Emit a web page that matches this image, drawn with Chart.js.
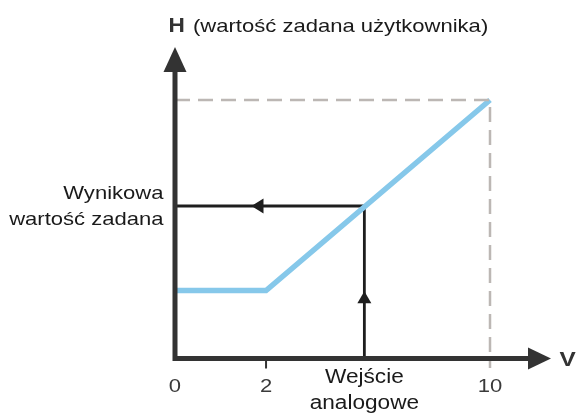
<!DOCTYPE html>
<html>
<head>
<meta charset="utf-8">
<script src="https://cdn.jsdelivr.net/npm/chart.js@4/dist/chart.umd.min.js"></script>
<style>
  html, body { margin: 0; padding: 0; background: #ffffff; }
  #wrap { width: 578px; height: 414px; }
</style>
</head>
<body>
<div id="wrap"><canvas id="c" width="578" height="414"></canvas></div>
<script>
// Schematic axis positions (the horizontal axis is not to scale)
const xTickPos = [0, 2, 6.92];
const xTickLabels = ['0', '2', '10'];

// Characteristic: constant set point up to the knee, then rising to the maximum
const curveX = [0, 2, 6.92];
const curveY = [2.63, 2.63, 10];

// Upper limit of the set point
const maxH = 10;

// Example operating point: analogue input and resulting set point
const inputX = 4.16;
const resultH = 5.9;

// Axis extent (arrow tips)
const xEnd = 8.26;
const yEnd = 12.05;

const TEXT_SX = 1.16;
const FONT = '"Liberation Sans", Arial, Helvetica, sans-serif';

function drawLabel(ctx, text, x, y, size, weight, align, color) {
  ctx.save();
  ctx.font = weight + ' ' + size + 'px ' + FONT;
  ctx.fillStyle = color;
  ctx.textAlign = align;
  ctx.textBaseline = 'alphabetic';
  ctx.translate(x, y);
  ctx.scale(TEXT_SX, 1);
  ctx.fillText(text, 0, 0);
  ctx.restore();
}

function triangle(ctx, pts, color) {
  ctx.beginPath();
  ctx.moveTo(pts[0][0], pts[0][1]);
  ctx.lineTo(pts[1][0], pts[1][1]);
  ctx.lineTo(pts[2][0], pts[2][1]);
  ctx.closePath();
  ctx.fillStyle = color;
  ctx.fill();
}

const diagramPlugin = {
  id: 'diagram',
  afterDatasetsDraw(chart) {
    const ctx = chart.ctx;
    const xs = chart.scales.x, ys = chart.scales.y;
    const x0 = xs.getPixelForValue(0), y0 = ys.getPixelForValue(0);
    const xTip = xs.getPixelForValue(xEnd), yTip = ys.getPixelForValue(yEnd);
    const axisColor = '#333333';

    // Direction arrows on the operating-point path
    const xIn = xs.getPixelForValue(inputX);
    const yRes = ys.getPixelForValue(resultH);
    const xLeftArrow = xs.getPixelForValue(1.68);
    triangle(ctx, [[xLeftArrow, yRes], [xLeftArrow + 12, yRes - 7.5], [xLeftArrow + 12, yRes + 7.5]], '#1e1e1e');
    const yUpArrow = ys.getPixelForValue(2.6);
    triangle(ctx, [[xIn, yUpArrow], [xIn - 7, yUpArrow + 12], [xIn + 7, yUpArrow + 12]], '#1e1e1e');

    // Tick mark at the knee
    ctx.save();
    ctx.strokeStyle = axisColor;
    ctx.lineWidth = 2;
    const xk = xs.getPixelForValue(xTickPos[1]);
    ctx.beginPath();
    ctx.moveTo(xk, y0);
    ctx.lineTo(xk, y0 + 10);
    ctx.stroke();
    ctx.restore();

    // Axes with arrow heads
    ctx.save();
    ctx.strokeStyle = axisColor;
    ctx.lineWidth = 5;
    ctx.lineCap = 'butt';
    ctx.beginPath();
    ctx.moveTo(x0, y0 + 2.5);
    ctx.lineTo(x0, yTip + 20);
    ctx.moveTo(x0 - 2.5, y0);
    ctx.lineTo(xTip - 20, y0);
    ctx.stroke();
    ctx.restore();
    triangle(ctx, [[x0, yTip], [x0 - 11.5, yTip + 25], [x0 + 11.5, yTip + 25]], axisColor);
    triangle(ctx, [[xTip, y0], [xTip - 23, y0 - 11], [xTip - 23, y0 + 11]], axisColor);

    // Axis titles
    drawLabel(ctx, 'H', 168.5, 31.7, 19.5, 'bold', 'left', '#333333');
    drawLabel(ctx, '(wartość zadana użytkownika)', 193, 31.7, 19, 'normal', 'left', '#1a1a1a');
    drawLabel(ctx, 'V', 559.5, 366, 21, 'bold', 'left', '#333333');

    // Tick labels
    xTickPos.forEach((v, i) => {
      drawLabel(ctx, xTickLabels[i], xs.getPixelForValue(v), 392, 19, 'normal', 'center', '#3a3a3a');
    });

    // Operating point labels
    drawLabel(ctx, 'Wejście', xIn, 383, 19.5, 'normal', 'center', '#1a1a1a');
    drawLabel(ctx, 'analogowe', xIn, 409, 19.5, 'normal', 'center', '#1a1a1a');
    drawLabel(ctx, 'Wynikowa', 163.5, 198.5, 19, 'normal', 'right', '#1a1a1a');
    drawLabel(ctx, 'wartość zadana', 163.5, 225, 19, 'normal', 'right', '#1a1a1a');
  }
};

const pts = (xa, ya) => xa.map((x, i) => ({ x: x, y: ya[i] }));

new Chart(document.getElementById('c'), {
  type: 'scatter',
  data: {
    datasets: [
      {
        // Maximum set-point guide
        data: [{ x: 0, y: maxH }, { x: curveX[2], y: maxH }, { x: curveX[2], y: -0.37 }],
        showLine: true,
        borderColor: '#bcb7b4',
        borderWidth: 2.5,
        borderDash: [15, 8],
        pointRadius: 0,
        clip: false
      },
      {
        // Set-point characteristic
        data: pts(curveX, curveY),
        showLine: true,
        borderColor: '#86c8ea',
        borderWidth: 5.5,
        borderJoinStyle: 'miter',
        pointRadius: 0,
        tension: 0,
        clip: false
      },
      {
        // Path from the analogue input to the resulting set point
        data: [{ x: 0, y: resultH }, { x: inputX, y: resultH }, { x: inputX, y: 0 }],
        showLine: true,
        borderColor: '#1e1e1e',
        borderWidth: 2.8,
        borderJoinStyle: 'miter',
        pointRadius: 0,
        tension: 0,
        clip: false
      }
    ]
  },
  options: {
    responsive: false,
    animation: false,
    events: [],
    layout: { padding: { left: 175, right: 27, top: 47, bottom: 55.5 } },
    plugins: { legend: { display: false }, tooltip: { enabled: false }, title: { display: false } },
    scales: {
      x: { type: 'linear', min: 0, max: xEnd, display: false },
      y: { type: 'linear', min: 0, max: yEnd, display: false }
    }
  },
  plugins: [diagramPlugin]
});
</script>
</body>
</html>
